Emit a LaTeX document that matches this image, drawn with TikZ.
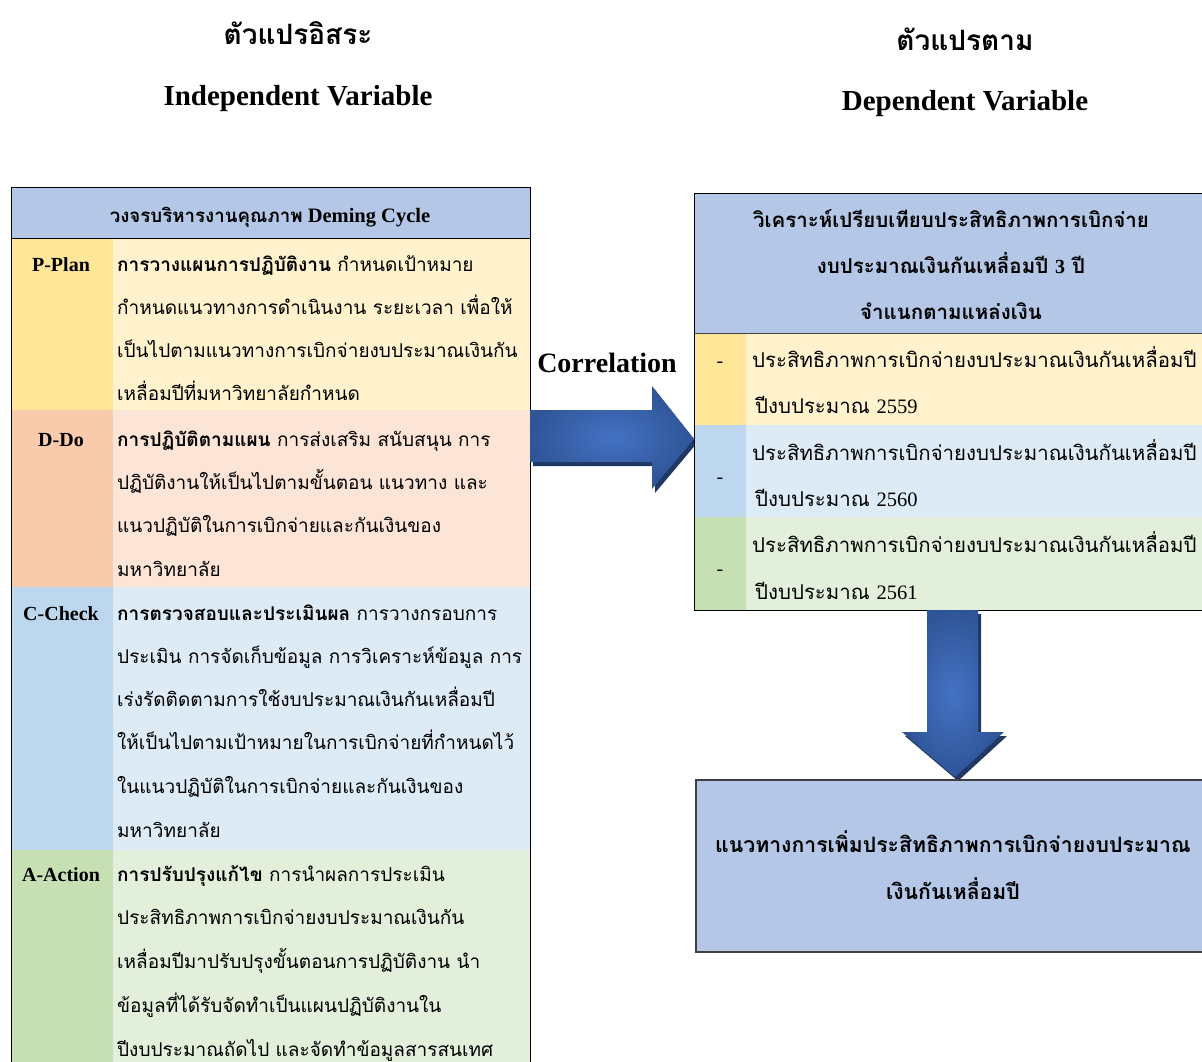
\documentclass[tikz,border=0pt]{standalone}
\usepackage{fontspec}
\setmainfont{Liberation Serif}
\newfontfamily\thaifont[Script=Thai]{Loma}
\usetikzlibrary{shadings}
\newcommand\mybody{\thaifont\fontsize{19}{22}\selectfont}
\newcommand\myright{\thaifont\fontsize{20.4}{24}\selectfont}
\definecolor{hdr}{HTML}{B4C7E7}
\definecolor{yD}{HTML}{FFE699}
\definecolor{yL}{HTML}{FFF2CC}
\definecolor{oD}{HTML}{F8CBAD}
\definecolor{oL}{HTML}{FCE4D6}
\definecolor{bD}{HTML}{BDD7EE}
\definecolor{bL}{HTML}{DDEBF7}
\definecolor{gD}{HTML}{C6E0B4}
\definecolor{gL}{HTML}{E2EFDA}
\definecolor{arrL}{HTML}{4472C4}
\definecolor{arrD}{HTML}{2F5597}
\definecolor{arrS}{HTML}{1F3864}
\definecolor{boxline}{HTML}{404040}
\tikzset{
  ln/.style={anchor=base west, inner sep=0pt, font=\mybody},
  rln/.style={anchor=base west, inner sep=0pt, font=\myright},
  lab/.style={anchor=base, inner sep=0pt, font=\fontsize{20}{24}\selectfont\bfseries},
  ctr/.style={anchor=base, inner sep=0pt, font=\thaifont\fontsize{20.5}{24}\selectfont\bfseries},
  ctrb/.style={anchor=base, inner sep=0pt, font=\thaifont\fontsize{21.2}{24}\selectfont\bfseries},
  ttl/.style={anchor=base, inner sep=0pt, font=\thaifont\fontsize{28}{32}\selectfont\bfseries},
  etl/.style={anchor=base, inner sep=0pt, font=\fontsize{29}{34}\selectfont\bfseries},
  arrowfill/.style={shading=radial, inner color=arrL, outer color=arrD},
}
\begin{document}
\begin{tikzpicture}[x=1pt,y=-1pt]
\useasboundingbox (0,0) rectangle (1202,1062);
% ---------- titles
\node[ttl] (t1) at (298,45) {ตัวแปรอิสระ};
\node[etl] (t2) at (298,106) {Independent Variable};
\node[ttl] (t3) at (965,51) {ตัวแปรตาม};
\node[etl] (t4) at (965,111) {Dependent Variable};
% ---------- left table
\fill[hdr] (11,187) rectangle (530,238);
\fill[yD] (11,238) rectangle (113,410); \fill[yL] (113,238) rectangle (530,410);
\fill[oD] (11,410) rectangle (113,587); \fill[oL] (113,410) rectangle (530,587);
\fill[bD] (11,587) rectangle (113,850); \fill[bL] (113,587) rectangle (530,850);
\fill[gD] (11,850) rectangle (113,1070); \fill[gL] (113,850) rectangle (530,1070);
\draw[line width=1pt] (11,1070) -- (11,187) -- (530,187) -- (530,1070);
\draw[line width=1pt] (11,238) -- (530,238);
\node[anchor=base, inner sep=0pt, font=\fontsize{20.5}{24}\selectfont\bfseries] (lh) at (270,222) {{\thaifont\fontsize{18.7}{20}\selectfont วงจรบริหารงานคุณภาพ} Deming Cycle};
% P-Plan
\node[lab] (lp) at (61,271) {P-Plan};
\node[ln] (p1) at (117,271) {{\bfseries การวางแผนการปฏิบัติงาน} กำหนดเป้าหมาย};
\node[ln] (p2) at (117,314) {กำหนดแนวทางการดำเนินงาน ระยะเวลา เพื่อให้};
\node[ln] (p3) at (117,357) {เป็นไปตามแนวทางการเบิกจ่ายงบประมาณเงินกัน};
\node[ln] (p4) at (117,400) {เหลื่อมปีที่มหาวิทยาลัยกำหนด};
% D-Do
\node[lab] (ld) at (61,446) {D-Do};
\node[ln] (d1) at (117,446) {{\bfseries การปฏิบัติตามแผน} การส่งเสริม สนับสนุน การ};
\node[ln] (d2) at (117,489) {ปฏิบัติงานให้เป็นไปตามขั้นตอน แนวทาง และ};
\node[ln] (d3) at (117,532) {แนวปฏิบัติในการเบิกจ่ายและกันเงินของ};
\node[ln] (d4) at (117,576) {มหาวิทยาลัย};
% C-Check
\node[lab] (lc) at (61,620) {C-Check};
\node[ln] (c1) at (117,620) {{\bfseries การตรวจสอบและประเมินผล} การวางกรอบการ};
\node[ln] (c2) at (117,663) {ประเมิน การจัดเก็บข้อมูล การวิเคราะห์ข้อมูล การ};
\node[ln] (c3) at (117,706) {เร่งรัดติดตามการใช้งบประมาณเงินกันเหลื่อมปี};
\node[ln] (c4) at (117,749) {ให้เป็นไปตามเป้าหมายในการเบิกจ่ายที่กำหนดไว้};
\node[ln] (c5) at (117,793) {ในแนวปฏิบัติในการเบิกจ่ายและกันเงินของ};
\node[ln] (c6) at (117,837) {มหาวิทยาลัย};
% A-Action
\node[lab] (la) at (61,881) {A-Action};
\node[ln] (a1) at (117,881) {{\bfseries การปรับปรุงแก้ไข} การนำผลการประเมิน};
\node[ln] (a2) at (117,924) {ประสิทธิภาพการเบิกจ่ายงบประมาณเงินกัน};
\node[ln] (a3) at (117,968) {เหลื่อมปีมาปรับปรุงขั้นตอนการปฏิบัติงาน นำ};
\node[ln] (a4) at (117,1012) {ข้อมูลที่ได้รับจัดทำเป็นแผนปฏิบัติงานใน};
\node[ln] (a5) at (117,1056) {ปีงบประมาณถัดไป และจัดทำข้อมูลสารสนเทศ};
% ---------- Correlation
\node[anchor=base, inner sep=0pt, font=\fontsize{28}{32}\selectfont\bfseries] (corr) at (607,372) {Correlation};
% ---------- right arrow
\begin{scope}[shift={(3,4)}]
\fill[arrS] (530,410) -- (652,410) -- (652,386) -- (694,439) -- (652,489) -- (652,462) -- (530,462) -- cycle;
\end{scope}
\shade[arrowfill] (530,410) -- (652,410) -- (652,386) -- (694,439) -- (652,489) -- (652,462) -- (530,462) -- cycle;
% ---------- right table
\fill[hdr] (694,193) rectangle (1210,333);
\fill[yD] (694,333) rectangle (746,425); \fill[yL] (746,333) rectangle (1210,425);
\fill[bD] (694,425) rectangle (746,517); \fill[bL] (746,425) rectangle (1210,517);
\fill[gD] (694,517) rectangle (746,610); \fill[gL] (746,517) rectangle (1210,610);
\draw[line width=1pt] (1210,193) -- (694,193) -- (694,610) -- (1210,610);
\draw[line width=1pt, draw=boxline] (694,333) -- (1210,333);
\node[ctr] (rh1) at (951,227) {วิเคราะห์เปรียบเทียบประสิทธิภาพการเบิกจ่าย};
\node[ctr] (rh2) at (951,273) {งบประมาณเงินกันเหลื่อมปี {\rmfamily\fontsize{20}{24}\selectfont 3} ปี};
\node[ctr] (rh3) at (951,319) {จำแนกตามแหล่งเงิน};
\node[anchor=base, inner sep=0pt, font=\fontsize{20}{24}\selectfont] (dash1) at (720,367) {-};
\node[anchor=base, inner sep=0pt, font=\fontsize{20}{24}\selectfont] (dash2) at (720,483) {-};
\node[anchor=base, inner sep=0pt, font=\fontsize{20}{24}\selectfont] (dash3) at (720,575) {-};
\node[rln] (r1a) at (752,367) {ประสิทธิภาพการเบิกจ่ายงบประมาณเงินกันเหลื่อมปี};
\node[rln] (r1b) at (755,413) {ปีงบประมาณ {\rmfamily\fontsize{20.5}{24}\selectfont 2559}};
\node[rln] (r2a) at (752,460) {ประสิทธิภาพการเบิกจ่ายงบประมาณเงินกันเหลื่อมปี};
\node[rln] (r2b) at (755,506) {ปีงบประมาณ {\rmfamily\fontsize{20.5}{24}\selectfont 2560}};
\node[rln] (r3a) at (752,552) {ประสิทธิภาพการเบิกจ่ายงบประมาณเงินกันเหลื่อมปี};
\node[rln] (r3b) at (755,599) {ปีงบประมาณ {\rmfamily\fontsize{20.5}{24}\selectfont 2561}};
% ---------- down arrow
\begin{scope}[shift={(3,4)}]
\fill[arrS] (927,610) -- (978,610) -- (978,732) -- (1004,732) -- (955,777) -- (902,732) -- (927,732) -- cycle;
\end{scope}
\shade[arrowfill] (927,610) -- (978,610) -- (978,732) -- (1004,732) -- (955,777) -- (902,732) -- (927,732) -- cycle;
% ---------- bottom box
\filldraw[fill=hdr, draw=boxline, line width=1.5pt] (696,780) rectangle (1210,952);
\node[ctrb] (b1) at (953,852) {แนวทางการเพิ่มประสิทธิภาพการเบิกจ่ายงบประมาณ};
\node[ctrb] (b2) at (953,899) {เงินกันเหลื่อมปี};
\end{tikzpicture}
\end{document}
